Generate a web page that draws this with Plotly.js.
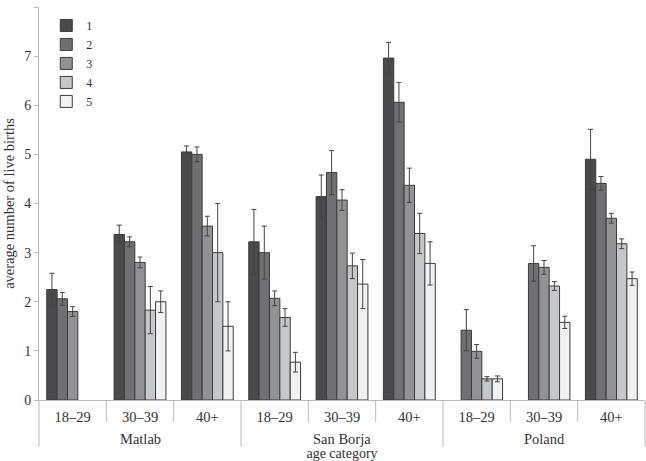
<!DOCTYPE html>
<html>
<head>
<meta charset="utf-8">
<script src="https://cdn.plot.ly/plotly-3.0.1.min.js"></script>
<style>html,body{margin:0;padding:0;background:#fff}#chart{width:646px;height:461px}</style>
</head>
<body>
<div id="chart"></div>
<script>
// Categories
const outerCats = ["Matlab","Matlab","Matlab","San Borja","San Borja","San Borja","Poland","Poland","Poland"];
const innerCats = ["18–29","30–39","40+","18–29","30–39","40+","18–29","30–39","40+"];
const seriesNames = ["1","2","3","4","5"];

// Mean values per series (null = no bar)
const s1 = [2.25, 3.37, 5.05, 3.22, 4.14, 6.96, null, null, 4.90];
const s2 = [2.06, 3.22, 5.00, 3.00, 4.63, 6.06, 1.42, 2.78, 4.41];
const s3 = [1.80, 2.80, 3.54, 2.07, 4.07, 4.37, 0.99, 2.70, 3.70];
const s4 = [null, 1.83, 3.00, 1.68, 2.73, 3.39, 0.43, 2.32, 3.18];
const s5 = [null, 2.00, 1.50, 0.77, 2.36, 2.78, 0.43, 1.58, 2.47];

// Error bar half-widths
const e1 = [0.33, 0.19, 0.12, 0.66, 0.44, 0.32, null, null, 0.61];
const e2 = [0.13, 0.10, 0.15, 0.54, 0.45, 0.40, 0.42, 0.36, 0.14];
const e3 = [0.10, 0.11, 0.20, 0.15, 0.21, 0.35, 0.14, 0.14, 0.10];
const e4 = [null, 0.48, 1.00, 0.18, 0.26, 0.41, 0.045, 0.09, 0.10];
const e5 = [null, 0.22, 0.50, 0.20, 0.50, 0.44, 0.06, 0.125, 0.135];

const colors = ["#4a4a4c", "#707072", "#929294", "#c6c7c9", "#f1f1f1"];
const values = [s1, s2, s3, s4, s5];
const errors = [e1, e2, e3, e4, e5];

const font = "Liberation Serif, Times New Roman, serif";
const axisGrey = "#bbb";
const n = innerCats.length;
const xIdx = innerCats.map((_, i) => i);

const traces = values.map((v, i) => ({
  type: "bar",
  name: seriesNames[i],
  x: xIdx,
  y: v,
  marker: {color: colors[i], line: {color: "#3c3c3c", width: 1}},
  error_y: {type: "data", array: errors[i], visible: true, color: "#444", thickness: 1, width: 2.5},
  hoverinfo: "skip"
}));

// Divider lines below the axis: short between age categories, long between sites
const shapes = [];
const annotations = [];
for (let b = 0; b <= n; b++) {
  const isOuter = b === 0 || b === n || outerCats[b] !== outerCats[b - 1];
  shapes.push({
    type: "line", xref: "paper", yref: "paper",
    x0: b / n, x1: b / n,
    ysizemode: "pixel", yanchor: 0, y0: 0, y1: isOuter ? -47 : -22,
    line: {color: axisGrey, width: 1}
  });
}
// Site labels centred under their groups
const sites = [...new Set(outerCats)];
sites.forEach(site => {
  const idx = xIdx.filter(i => outerCats[i] === site);
  const centre = (idx[0] + idx[idx.length - 1]) / 2;
  annotations.push({
    text: site, xref: "x", yref: "paper", x: centre, y: 0,
    xanchor: "center", yanchor: "top", yshift: -29, showarrow: false,
    font: {family: font, size: 14.5, color: "#333"}
  });
});

const layout = {
  width: 646, height: 461,
  margin: {l: 39, r: 1, t: 7, b: 61},
  paper_bgcolor: "#fff", plot_bgcolor: "#fff",
  font: {family: font, size: 13, color: "#333"},
  barmode: "group",
  bargap: 0.23,
  bargroupgap: 0,
  showlegend: true,
  legend: {x: 0.012, y: 0.99, xanchor: "left", yanchor: "top", bgcolor: "rgba(0,0,0,0)",
           font: {family: font, size: 12, color: "#333"}, itemwidth: 30, tracegroupgap: 0},
  xaxis: {
    range: [-0.5, n - 0.5],
    tickmode: "array", tickvals: xIdx, ticktext: innerCats,
    showline: true, linecolor: axisGrey, linewidth: 1,
    ticks: "", ticklabelstandoff: 4,
    showgrid: false, zeroline: false,
    tickfont: {family: font, size: 14.5, color: "#333"},
    title: {text: "age category", font: {family: font, size: 14, color: "#333"}, standoff: 24},
    automargin: false
  },
  yaxis: {
    range: [0, 8], dtick: 1, tick0: 0,
    showline: true, linecolor: axisGrey, linewidth: 1,
    ticks: "outside", ticklen: 4, tickcolor: axisGrey,
    showgrid: false, zeroline: false,
    tickfont: {family: font, size: 14, color: "#333"},
    title: {text: "average number of live births", font: {family: font, size: 14.5, color: "#333"}, standoff: 6},
    automargin: false
  },
  shapes: shapes,
  annotations: annotations
};

Plotly.newPlot("chart", traces, layout, {displayModeBar: false, staticPlot: true});
</script>
</body>
</html>
